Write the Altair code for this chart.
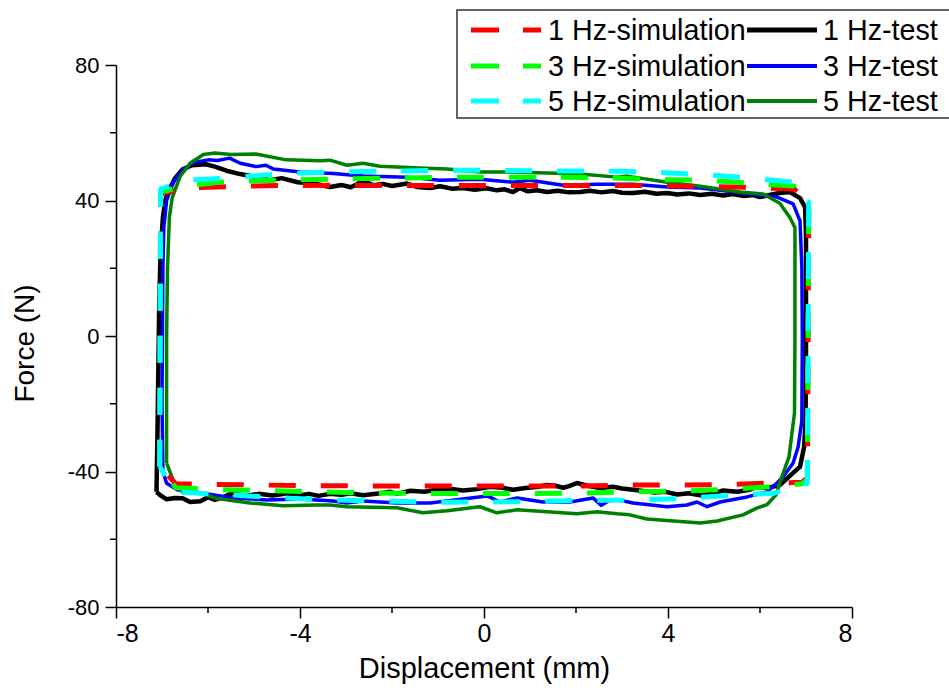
import altair as alt
import pandas as pd

# ---- simulated loops (dashed): shared displacement path, force per frequency ----
sim_x = [-7.05, -7.03, -6.46, -5.6, -4.5, -3.3, -2.0, -1.0, 0.0, 1.0, 2.0, 3.0, 3.65,
         4.8, 5.9, 6.74, 7.06, 7.03, 6.91, 6.3, 5.4, 4.3, 3.1, 2.0, 1.0, 0.0, -1.0,
         -2.0, -3.0, -3.7, -4.8, -5.9, -6.7, -7.05]
sim_1hz_y = [-38.6, 42.0, 43.7, 44.1, 44.4, 44.5, 44.4, 44.4, 44.4, 44.4, 44.4, 44.4, 44.4,
             44.2, 43.8, 43.4, 39.5, -42.0, -43.2, -43.4, -43.8, -44.0, -44.0, -44.3, -44.3,
             -44.3, -44.3, -44.3, -44.2, -44.2, -44.0, -43.8, -43.6, -38.6]
sim_3hz_y = [-38.6, 42.5, 44.3, 45.6, 46.0, 46.3, 46.6, 46.8, 46.9, 46.9, 46.8, 46.6, 46.2,
             46.0, 45.0, 44.3, 39.5, -42.5, -43.6, -44.4, -45.2, -45.8, -46.0, -46.4, -46.5,
             -46.5, -46.5, -46.4, -46.2, -46.0, -45.6, -45.3, -44.8, -38.6]
sim_5hz_y = [-38.6, 43.4, 46.0, 46.6, 47.8, 48.4, 48.7, 48.9, 48.9, 48.8, 48.7, 48.6, 48.4,
             47.6, 46.5, 45.4, 39.5, -43.5, -44.0, -46.4, -47.0, -48.0, -48.5, -48.5, -48.9,
             -49.0, -49.1, -48.8, -48.5, -48.2, -47.5, -46.6, -46.0, -38.6]

# ---- measured loops ----
test_1hz_x = [-7.12, -7.10, -7.08, -7.06, -7.03, -6.98, -6.93, -6.85, -6.72, -6.55, -6.35,
              -6.05, -5.85, -5.6, -5.3, -5.0, -4.65, -4.4, -4.05, -3.7, -3.35, -3.1, -2.9,
              -2.76, -2.63, -2.41, -2.2, -2.0, -1.8, -1.67, -1.46, -1.17, -0.95, -0.7, -0.46,
              -0.2, 0.05, 0.28, 0.45, 0.63, 0.78, 0.95, 1.15, 1.37, 1.6, 1.85, 2.09, 2.3,
              2.55, 2.8, 3.0, 3.24, 3.5, 3.75, 3.98, 4.2, 4.45, 4.7, 4.95, 5.2, 5.41, 5.65,
              5.85, 6.0, 6.2, 6.43, 6.65, 6.87, 6.98,
              7.0, 7.0, 7.0, 6.99, 6.96, 6.87, 6.72, 6.43, 6.15,
              5.93, 5.78, 5.5, 5.2, 4.95, 4.7, 4.45, 4.2, 3.95, 3.7, 3.5, 3.24, 3.0, 2.8,
              2.52, 2.25, 2.02, 1.85, 1.72, 1.55, 1.37, 1.15, 0.9, 0.63, 0.4, 0.13, -0.15,
              -0.46, -0.75, -1.02, -1.3, -1.6, -1.89, -2.04, -2.3, -2.63, -2.9, -3.1, -3.35,
              -3.6, -3.8, -4.0, -4.3, -4.6, -4.9, -5.2, -5.46, -5.65, -5.85, -6.0, -6.17,
              -6.39, -6.55, -6.72, -6.9, -7.04, -7.12]
test_1hz_y = [-46.0, -30.0, -10.0, 10.0, 25.0, 35.0, 40.0, 43.0, 46.5, 49.2, 50.4,
              50.7, 50.0, 48.8, 47.8, 47.0, 46.0, 46.6, 45.4, 45.0, 44.0, 44.6, 43.9,
              44.8, 46.0, 44.5, 44.9, 44.3, 44.7, 45.0, 44.0, 43.7, 44.2, 43.5, 43.7,
              43.2, 43.6, 43.0, 43.3, 42.5, 43.7, 42.7, 43.0, 42.5, 42.9, 42.4, 42.5, 42.9,
              42.4, 42.8, 42.3, 42.2, 42.6, 42.0, 42.2, 41.8, 42.1, 41.6, 42.0, 41.5, 41.9, 41.3,
              41.6, 41.0, 41.6, 42.2, 42.5, 40.7, 38.0,
              30.0, 10.0, -10.0, -25.0, -32.7, -38.6, -40.4, -44.0, -44.9,
              -44.5, -45.4, -46.0, -45.6, -46.6, -47.0, -46.4, -46.8, -46.0, -46.2, -45.8,
              -45.4, -45.0, -44.5,
              -44.9, -44.2, -43.4, -44.3, -44.8, -44.2, -44.0, -44.6, -44.9, -45.4, -44.8,
              -44.5, -45.2,
              -45.6, -45.1, -45.4, -46.0, -45.7, -46.6, -46.0, -46.5, -47.0, -46.4, -46.9, -46.6,
              -47.2, -46.6, -47.0, -46.5, -47.1, -46.6, -47.2, -46.3, -47.5, -48.4, -47.6, -48.8,
              -49.0, -47.9, -47.8, -48.2, -47.0, -46.0]

test_3hz_x = [-6.98, -7.0, -6.99, -6.98, -6.96, -6.9, -6.75, -6.55, -6.3, -6.0, -5.8, -5.53,
              -5.3, -4.96, -4.74, -4.58, -4.0, -3.28, -2.63, -1.67, -0.96, -0.09, 0.63, 1.0,
              1.72, 2.46, 2.89, 3.24, 3.98, 4.7, 5.13, 5.63, 6.37, 6.72, 6.87,
              6.91, 6.92, 6.91, 6.83, 6.72, 6.5, 6.37, 6.15, 5.72, 5.13, 4.85, 4.63, 4.41,
              3.98, 3.24, 2.89, 2.74, 2.55, 2.37, 1.87, 1.28, 0.72, 0.35, 0.07, -0.46,
              -1.17, -1.89, -2.63, -2.98, -3.28, -4.0, -4.72, -5.46, -6.17, -6.67, -6.9, -6.98]
test_3hz_y = [-40.0, -20.0, 0.0, 20.0, 32.0, 40.0, 45.5, 49.0, 51.2, 52.0, 51.8, 52.5,
              51.0, 50.0, 50.4, 49.3, 48.4, 48.0, 47.2, 46.9, 46.0, 46.3, 45.4, 46.0,
              44.5, 44.8, 44.8, 44.8, 44.0, 43.7, 43.0, 42.2, 41.0, 39.0, 34.0,
              20.0, 0.0, -25.0, -32.7, -37.5, -41.6, -43.4, -46.0, -47.5, -49.0, -50.4, -49.0, -49.9,
              -50.4, -49.3, -48.3, -48.4, -50.0, -47.8, -49.0, -49.0, -47.8, -49.0, -47.2, -48.1,
              -49.3, -49.3, -48.7, -49.3, -48.7, -48.1, -48.4, -47.8, -46.3, -45.4, -43.5, -40.0]

test_5hz_x = [-6.9, -6.9, -6.9, -6.88, -6.84, -6.78, -6.61, -6.39, -6.1, -5.85, -5.5, -4.96,
              -4.3, -3.57, -3.35, -2.98, -2.63, -2.26, -1.39, -0.8, -0.09, 0.63, 1.37, 2.09,
              2.89, 3.11, 3.98, 4.7, 5.57, 6.07, 6.43, 6.65, 6.76,
              6.76, 6.75, 6.63, 6.45, 6.35, 6.15, 5.93, 5.63, 5.07, 4.7, 3.54, 3.17, 2.89,
              2.46, 2.02, 1.37, 0.72, 0.28, -0.09, -0.8, -1.33, -1.89, -2.98, -3.35, -3.63,
              -4.37, -5.09, -5.8, -6.39, -6.54, -6.76, -6.9]
test_5hz_y = [-37.5, -20.0, 0.0, 20.0, 35.0, 40.7, 47.0, 51.0, 53.6, 54.0, 53.6, 53.7,
              52.0, 51.7, 51.9, 50.4, 51.0, 50.1, 49.6, 49.3, 48.4, 48.4, 48.1, 47.8,
              46.9, 47.2, 45.4, 44.2, 42.5, 41.9, 39.2, 35.0, 32.0,
              0.0, -22.7, -35.7, -42.5, -46.9, -49.8, -50.8, -52.8, -54.6, -55.2, -54.0, -52.8, -52.5,
              -51.9, -52.5, -51.9, -51.3, -52.2, -50.4, -51.6, -52.2, -50.7, -50.4, -49.9, -49.9,
              -50.1, -49.3, -48.0, -45.4, -46.3, -42.5, -37.5]

# axis ticks
x_major = [-8, -4, 0, 4, 8]
x_minor = [-6, -2, 2, 6]
y_major = [-80, -40, 0, 40, 80]
y_minor = [-60, -20, 20, 60]

# legend entries: (label, colour) for dashed simulation lines, (label, colour, width) for test lines
legend_sim = [("1 Hz-simulation", "#FF0000"), ("3 Hz-simulation", "#00FF00"), ("5 Hz-simulation", "#00FFFF")]
legend_test = [("1 Hz-test", "#000000", 5), ("3 Hz-test", "#0000FF", 4), ("5 Hz-test", "#008000", 4)]

W, H = 736, 542
FONT = "Liberation Sans, Arial, Helvetica, sans-serif"

x_scale = alt.Scale(domain=[-8, 8], nice=False, zero=False)
y_scale = alt.Scale(domain=[-80, 80], nice=False, zero=False)

x_axis = alt.Axis(values=x_major, title="Displacement (mm)", labelExpr="'' + datum.value",
                  grid=False, domainColor="black", domainWidth=1.5, tickColor="black",
                  tickWidth=1.5, tickSize=11, labelFont=FONT,
                  labelFontSize=25, labelColor="black", labelPadding=3,
                  titleFont=FONT, titleFontSize=29, titleFontWeight="normal", titleColor="black",
                  titleX=W / 2, titleY=61, titleBaseline="middle", titleAlign="center")
y_axis = alt.Axis(values=y_major, title="Force (N)", labelExpr="'' + datum.value",
                  grid=False, domainColor="black", domainWidth=1.5, tickColor="black",
                  tickWidth=1.5, tickSize=11, labelFont=FONT, labelFontSize=22,
                  labelColor="black", labelPadding=6,
                  titleFont=FONT, titleFontSize=28, titleFontWeight="normal", titleColor="black",
                  titleX=-91, titleY=278, titleBaseline="middle", titleAlign="center", titleAngle=270)


def xe(field="x"):
    return alt.X(f"{field}:Q", scale=x_scale, axis=x_axis)


def ye(field="y"):
    return alt.Y(f"{field}:Q", scale=y_scale, axis=y_axis)


def loop(xs, ys, color, width, dash=None):
    df = pd.DataFrame({"x": xs, "y": ys, "i": list(range(len(xs)))})
    kw = dict(color=color, strokeWidth=width, strokeCap="butt", strokeJoin="round")
    if dash:
        kw["strokeDash"] = dash
    return alt.Chart(df).mark_line(**kw).encode(x=xe(), y=ye(), order=alt.Order("i:Q"))


DASH = [27, 25]
layers = [
    loop(test_1hz_x, test_1hz_y, "#000000", 4.5),
    loop(test_3hz_x, test_3hz_y, "#0000FF", 3.5),
    loop(test_5hz_x, test_5hz_y, "#008000", 3.5),
    loop(sim_x, sim_1hz_y, "#FF0000", 5, DASH),
    loop(sim_x, sim_3hz_y, "#00FF00", 5, DASH),
    loop(sim_x, sim_5hz_y, "#00FFFF", 5, DASH),
]

# minor ticks on both axes
layers.append(alt.Chart(pd.DataFrame({"x": x_minor})).mark_rule(color="black", strokeWidth=1.5)
              .encode(x=xe(), y=alt.value(H), y2=alt.value(H + 6)))
layers.append(alt.Chart(pd.DataFrame({"y": y_minor})).mark_rule(color="black", strokeWidth=1.5)
              .encode(y=ye(), x=alt.value(0), x2=alt.value(-6)))

# legend box
layers.append(alt.Chart(pd.DataFrame({"a": [0]})).mark_rect(fill="white", stroke="#333333", strokeWidth=1.5)
              .encode(x=alt.value(341), x2=alt.value(845), y=alt.value(-55), y2=alt.value(53)))

rows = [-35, 1, 36]
for (label, color), ry in zip(legend_sim, rows):
    layers.append(alt.Chart(pd.DataFrame({"a": [0]})).mark_rule(color=color, strokeWidth=5, strokeDash=[28, 24], strokeCap="butt")
                  .encode(x=alt.value(355), x2=alt.value(425), y=alt.value(ry)))
    layers.append(alt.Chart(pd.DataFrame({"a": [0]})).mark_text(align="left", baseline="middle", font=FONT, fontSize=28.7, color="black")
                  .encode(x=alt.value(432), y=alt.value(ry + 1), text=alt.value(label)))
for (label, color, w), ry in zip(legend_test, rows):
    layers.append(alt.Chart(pd.DataFrame({"a": [0]})).mark_rule(color=color, strokeWidth=w, strokeCap="butt")
                  .encode(x=alt.value(631), x2=alt.value(701), y=alt.value(ry)))
    layers.append(alt.Chart(pd.DataFrame({"a": [0]})).mark_text(align="left", baseline="middle", font=FONT, fontSize=28.7, color="black")
                  .encode(x=alt.value(707), y=alt.value(ry + 1), text=alt.value(label)))

chart = alt.layer(*layers).properties(
    width=W, height=H,
    autosize=alt.AutoSizeParams(type="none"),
    padding={"left": 116, "top": 65, "right": 97, "bottom": 86},
    background="white",
).configure_view(stroke=None)

chart.save("out.html", embed_options={"renderer": "svg", "actions": False})
